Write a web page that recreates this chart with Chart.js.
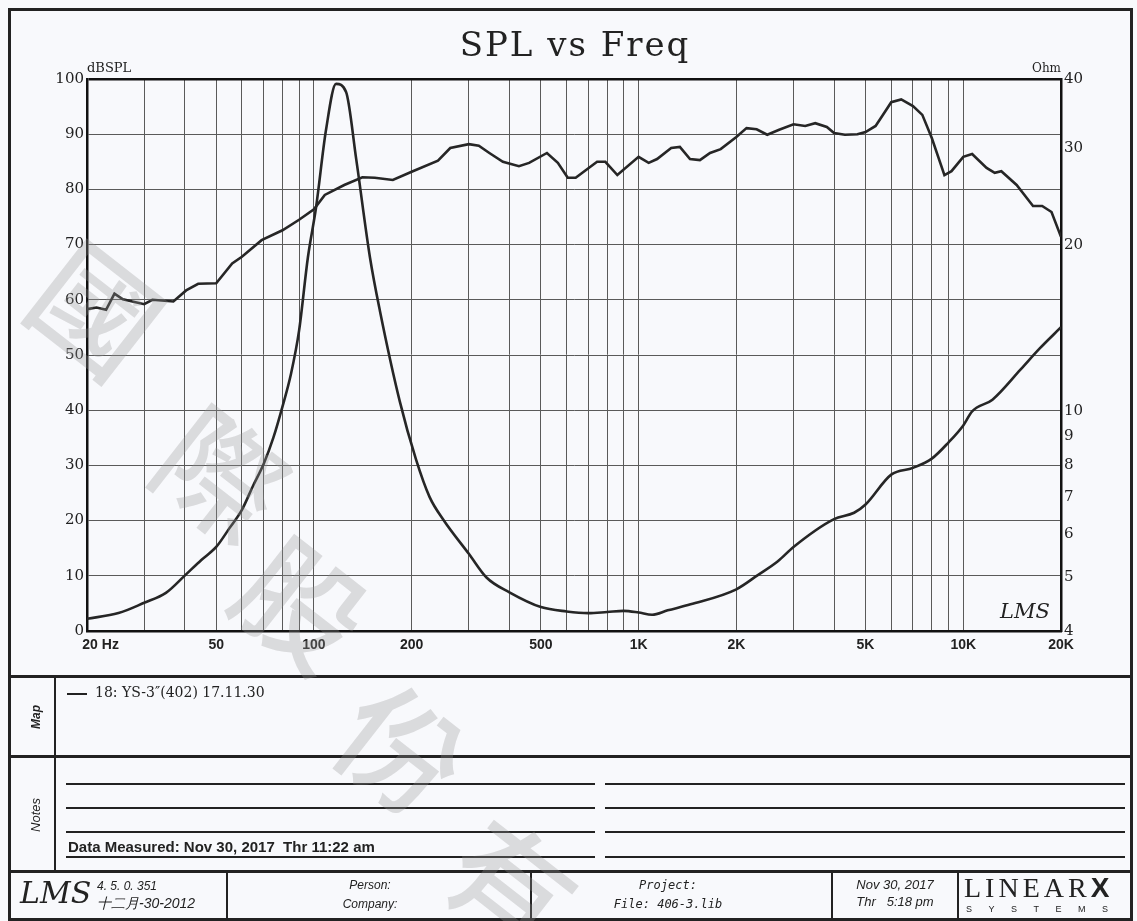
<!DOCTYPE html>
<html>
<head>
<meta charset="utf-8">
<script src="https://cdn.jsdelivr.net/npm/chart.js@4.4.1/dist/chart.umd.min.js"></script>
<style>
  body { margin: 0; width: 1137px; height: 921px; background: #f8f9fc; position: relative; overflow: hidden; color: #222; }
  .abs { position: absolute; }
  .hl { position: absolute; background: #222; }
  .serif { font-family: "DejaVu Serif", serif; }
  .sans { font-family: "Liberation Sans", Arial, sans-serif; }
  .wm { position: absolute; font-family: "Noto Sans CJK TC", sans-serif; font-weight: 500; font-size: 122px;
        color: rgba(150,150,150,0.30); transform: translate(-50%, -50%) rotate(38deg); line-height: 1; pointer-events: none; }
</style>
</head>
<body>
<canvas id="spl" width="1137" height="670" class="abs" style="left:0;top:0"></canvas>

<!-- frame -->
<div class="abs" style="left:8px;top:8px;width:1125px;height:913px;border:3px solid #222;box-sizing:border-box;"></div>
<div class="hl" style="left:8px;top:675px;width:1125px;height:3px"></div>
<div class="hl" style="left:8px;top:755px;width:1125px;height:3px"></div>
<div class="hl" style="left:8px;top:870px;width:1125px;height:3px"></div>
<div class="hl" style="left:54px;top:677px;width:2px;height:194px"></div>
<div class="hl" style="left:226px;top:872px;width:2px;height:50px"></div>
<div class="hl" style="left:530px;top:872px;width:2px;height:50px"></div>
<div class="hl" style="left:831px;top:872px;width:2px;height:50px"></div>
<div class="hl" style="left:957px;top:872px;width:2px;height:50px"></div>

<!-- notes lines -->
<div class="hl" style="left:66px;top:783px;width:529px;height:2px"></div>
<div class="hl" style="left:605px;top:783px;width:520px;height:2px"></div>
<div class="hl" style="left:66px;top:807px;width:529px;height:2px"></div>
<div class="hl" style="left:605px;top:807px;width:520px;height:2px"></div>
<div class="hl" style="left:66px;top:831px;width:529px;height:2px"></div>
<div class="hl" style="left:605px;top:831px;width:520px;height:2px"></div>
<div class="hl" style="left:66px;top:856px;width:529px;height:2px"></div>
<div class="hl" style="left:605px;top:856px;width:520px;height:2px"></div>

<!-- chart texts -->
<div class="abs serif" style="left:375px;top:24px;width:400px;text-align:center;font-size:34px;letter-spacing:2px;line-height:40px">SPL vs Freq</div>
<div class="abs serif" style="left:87px;top:60px;font-size:13px;line-height:16px">dBSPL</div>
<div class="abs serif" style="left:1000px;top:60px;width:61px;text-align:right;font-size:12px;line-height:16px">Ohm</div>
<div class="abs serif" style="left:1000px;top:598px;font-size:21px;font-style:italic;line-height:26px">LMS</div>

<!-- map / notes -->
<div class="abs sans" style="left:16px;top:708px;width:40px;height:18px;font-size:12px;font-weight:bold;font-style:italic;transform:rotate(-90deg);line-height:18px;text-align:center">Map</div>
<div class="abs sans" style="left:11px;top:806px;width:50px;height:18px;font-size:13px;font-style:italic;transform:rotate(-90deg);line-height:18px;text-align:center">Notes</div>
<div class="hl" style="left:67px;top:693px;width:20px;height:2px"></div>
<div class="abs serif" style="left:95px;top:683px;font-size:14px;line-height:18px">18: YS-3″(402) 17.11.30</div>
<div class="abs sans" style="left:68px;top:838px;font-size:15px;font-weight:bold;line-height:18px">Data Measured: Nov 30, 2017&nbsp; Thr 11:22 am</div>

<!-- footer -->
<div class="abs serif" style="left:20px;top:876px;font-size:30px;font-style:italic;line-height:34px">LMS</div>
<div class="abs sans" style="left:97px;top:879px;font-size:12px;font-style:italic;line-height:14px">4. 5. 0. 351</div>
<div class="abs sans" style="left:97px;top:895px;font-size:14px;font-style:italic;line-height:16px">十二月-30-2012</div>
<div class="abs sans" style="left:300px;top:876px;width:140px;text-align:center;font-size:12px;font-style:italic;line-height:19px">Person:<br>Company:</div>
<div class="abs" style="left:588px;top:876px;width:160px;text-align:center;font-family:'DejaVu Sans Mono',monospace;font-size:12px;font-style:italic;line-height:19px">Project:<br>File: 406-3.lib</div>
<div class="abs sans" style="left:840px;top:876px;width:110px;text-align:center;font-size:13px;font-style:italic;line-height:17px">Nov 30, 2017<br>Thr&nbsp;&nbsp; 5:18 pm</div>
<div class="abs" style="left:964px;top:874px;font-family:'Liberation Serif',serif;font-size:28px;letter-spacing:4px;line-height:28px">LINEAR<span style="font-family:'Liberation Sans',sans-serif;font-weight:900;letter-spacing:0">X</span></div>
<div class="abs sans" style="left:966px;top:903px;font-size:9px;letter-spacing:16.5px;line-height:12px">SYSTEMS</div>

<!-- watermark -->
<div class="wm" style="left:100px;top:305px">國</div>
<div class="wm" style="left:225px;top:470px">際</div>
<div class="wm" style="left:305px;top:600px">股</div>
<div class="wm" style="left:405px;top:745px">份</div>
<div class="wm" style="left:515px;top:880px">有</div>

<script>
// SPL response (Hz, dB)
const splFreq = [20, 21.4, 22.9, 24.3, 25.8, 27.6, 30, 31.8, 36.9, 40.4, 44, 50, 56, 60, 69, 80, 90, 100, 108, 124, 141, 154, 175, 200, 241, 263, 300, 322, 347, 382, 428, 460, 522, 564, 605, 640, 745, 790, 860, 1000, 1074, 1140, 1260, 1340, 1440, 1545, 1660, 1790, 2000, 2150, 2310, 2490, 2710, 3000, 3260, 3500, 3800, 4000, 4320, 4720, 5000, 5370, 5700, 6000, 6440, 7000, 7480, 8000, 8750, 9200, 10000, 10650, 11800, 12500, 13100, 14600, 16400, 17500, 18700, 20000];
const splDb = [58.3, 58.6, 58.2, 61.1, 60.1, 59.7, 59.2, 60.0, 59.7, 61.7, 62.9, 63.0, 66.6, 67.8, 70.8, 72.6, 74.5, 76.4, 79.0, 80.8, 82.2, 82.1, 81.7, 83.2, 85.2, 87.5, 88.2, 87.9, 86.6, 85.0, 84.2, 84.8, 86.6, 84.8, 82.1, 82.1, 85.0, 85.0, 82.6, 85.9, 84.8, 85.5, 87.5, 87.7, 85.5, 85.3, 86.6, 87.3, 89.5, 91.1, 90.9, 89.9, 90.8, 91.8, 91.5, 92.0, 91.3, 90.2, 89.9, 90.0, 90.4, 91.5, 93.8, 95.8, 96.3, 95.1, 93.5, 89.3, 82.6, 83.3, 85.9, 86.4, 83.9, 83.0, 83.3, 80.8, 77.0, 77.0, 75.9, 71.4];

// impedance (Hz, ohm)
const zFreq = [20, 25, 30, 35, 40, 45, 50, 55, 60, 65, 70, 75, 80, 85, 90, 95.8, 101.5, 108.9, 117, 125.6, 135, 148.8, 159.7, 184, 206, 227, 251, 300, 340, 400, 500, 600, 700, 800, 900, 1000, 1100, 1229, 1445, 2000, 2329, 2685, 3000, 4000, 4611, 5000, 6000, 7000, 8000, 9000, 10000, 10650, 12300, 15000, 17200, 20000];
const zOhm = [4.21, 4.31, 4.50, 4.69, 5.04, 5.38, 5.68, 6.15, 6.63, 7.34, 8.03, 8.96, 10.2, 11.7, 14.0, 19.0, 23.4, 32.3, 39.2, 37.9, 28.6, 19.0, 15.2, 10.4, 8.2, 7.0, 6.35, 5.52, 5.0, 4.70, 4.42, 4.34, 4.31, 4.33, 4.35, 4.32, 4.28, 4.36, 4.47, 4.76, 5.05, 5.35, 5.68, 6.38, 6.55, 6.78, 7.68, 7.90, 8.21, 8.78, 9.43, 10.0, 10.5, 11.9, 13.0, 14.2];

// axis ticks
const freqGrid = [20, 30, 40, 50, 60, 70, 80, 90, 100, 200, 300, 400, 500, 600, 700, 800, 900, 1000, 2000, 3000, 4000, 5000, 6000, 7000, 8000, 9000, 10000, 20000];
const freqLabelVals = [20, 50, 100, 200, 500, 1000, 2000, 5000, 10000, 20000];
const freqLabels = ["       20 Hz", "50", "100", "200", "500", "1K", "2K", "5K", "10K", "20K"];
const ohmTicks = [4, 5, 6, 7, 8, 9, 10, 20, 30, 40];

const lineCol = "#262626";

new Chart(document.getElementById("spl"), {
  type: "line",
  data: {
    datasets: [
      { label: "SPL", data: splFreq.map((f, i) => ({ x: f, y: splDb[i] })), borderColor: lineCol, borderWidth: 2.6,
        pointRadius: 0, tension: 0, yAxisID: "y" },
      { label: "Impedance", data: zFreq.map((f, i) => ({ x: f, y: zOhm[i] })), borderColor: lineCol, borderWidth: 2.6,
        pointRadius: 0, cubicInterpolationMode: "monotone", yAxisID: "z" }
    ]
  },
  options: {
    responsive: false,
    animation: false,
    layout: { padding: { top: 79, left: 0, right: 0, bottom: 0 } },
    plugins: { legend: { display: false }, tooltip: { enabled: false }, title: { display: false } },
    scales: {
      x: {
        type: "logarithmic", min: 20, max: 20000, position: "bottom",
        afterBuildTicks: s => { s.ticks = freqGrid.map(v => ({ value: v })); },
        afterFit: s => { s.height = 39; },
        grid: { color: "#5a5a5a", lineWidth: 1, drawTicks: false },
        border: { color: "#111", width: 2.5 },
        ticks: {
          autoSkip: false, maxRotation: 0, padding: 6, color: "#222",
          font: { family: "Liberation Sans", weight: "bold", size: 14 },
          callback: v => { const k = freqLabelVals.indexOf(v); return k >= 0 ? freqLabels[k] : ""; }
        }
      },
      y: {
        type: "linear", min: 0, max: 100, position: "left",
        afterFit: s => { s.width = 87; },
        grid: { color: ctx => ctx.tick && ctx.tick.value === 100 ? "#111" : "#5a5a5a",
                lineWidth: ctx => ctx.tick && ctx.tick.value === 100 ? 2.5 : 1, drawTicks: false },
        border: { color: "#111", width: 2.5 },
        ticks: { stepSize: 10, padding: 3, color: "#222", font: { family: "DejaVu Serif", size: 15 } }
      },
      z: {
        type: "logarithmic", min: 4, max: 40, position: "right",
        afterBuildTicks: s => { s.ticks = ohmTicks.map(v => ({ value: v })); },
        afterFit: s => { s.width = 76; },
        grid: { drawOnChartArea: false, drawTicks: false },
        border: { color: "#111", width: 2.5 },
        ticks: { autoSkip: false, padding: 3, color: "#222", font: { family: "DejaVu Serif", size: 15 },
                 callback: v => String(v) }
      }
    }
  }
});
</script>
</body>
</html>
